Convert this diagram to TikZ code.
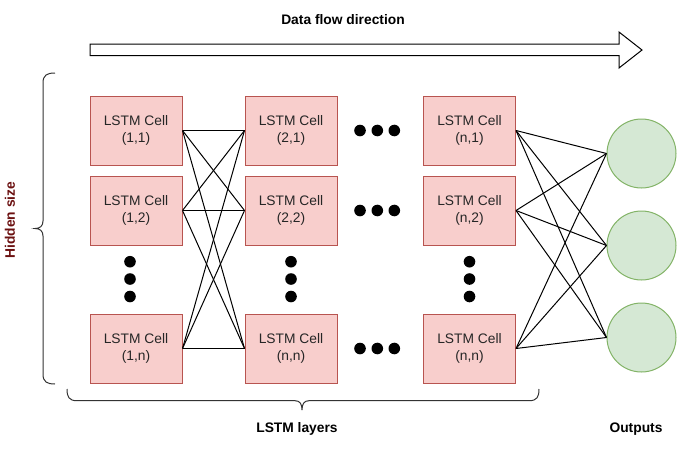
\documentclass[tikz,border=0pt]{standalone}
\usepackage{fontspec}
\setmainfont{Liberation Sans}
\usepackage{tikz}

\definecolor{cellfill}{HTML}{F8CECC}
\definecolor{celldraw}{HTML}{B85450}
\definecolor{outfill}{HTML}{D5E8D4}
\definecolor{outdraw}{HTML}{82B366}
\definecolor{sizered}{HTML}{6B1010}

\begin{document}
\begin{tikzpicture}[x=1pt, y=-1pt, line width=1pt,
        cell/.style={draw=celldraw, fill=cellfill, minimum width=92pt, minimum height=69pt,
            inner sep=0pt, align=center, text=black!85, font=\fontsize{13.8}{17}\selectfont},
        outnode/.style={circle, draw=outdraw, fill=outfill, minimum size=69pt, inner sep=0pt},
        title/.style={font=\bfseries\fontsize{13.8}{17}\selectfont}]
        \def\dotr{5.8}
        \def\braced{black!80}
        \useasboundingbox (0,0) rectangle (691,448);

        % cells, column by column
        \node[cell] (c11) at (136,130.5) {LSTM Cell\\(1,1)};
        \node[cell] (c12) at (136,210.5) {LSTM Cell\\(1,2)};
        \node[cell] (c1n) at (136,348.5) {LSTM Cell\\(1,n)};
        \node[cell] (c21) at (291,130.5) {LSTM Cell\\(2,1)};
        \node[cell] (c22) at (291,210.5) {LSTM Cell\\(2,2)};
        \node[cell] (c2n) at (291,348.5) {LSTM Cell\\(n,n)};
        \node[cell] (cn1) at (469.5,130.5) {LSTM Cell\\(n,1)};
        \node[cell] (cn2) at (469.5,210.5) {LSTM Cell\\(n,2)};
        \node[cell] (cnn) at (469.5,348.5) {LSTM Cell\\(n,n)};

        % outputs
        \node[outnode] (o1) at (641.5,153.5) {};
        \node[outnode] (o2) at (641.5,245.5) {};
        \node[outnode] (o3) at (641.5,337.5) {};

        \foreach \a in {1,2,n} {
            \foreach \b in {1,2,n} {
                \draw (c1\a.east) -- (c2\b.west);
            }
            \foreach \b in {1,2,3} {
                \draw (cn\a.east) -- (o\b.west);
            }
        }

        % dots
        \foreach \y in {130.5,210.5,348.5} {
            \foreach \x in {360,377.3,394.3} {
                \fill (\x,\y) circle (\dotr);
            }
        }
        \foreach \x in {130,291,469.5} {
            \foreach \y in {261.7,279,296.5} {
                \fill (\x,\y) circle (\dotr);
            }
        }

        % data flow arrow
        \draw[fill=white] (90,44) -- (619,44) -- (619,32) -- (642,50) -- (619,68)
            -- (619,55.7) -- (90,55.7) -- cycle;
        \node[title] (flow) at (343,20) {Data flow direction};

        % braces
        \draw[\braced] (55,73) .. controls (47,73) and (43,75) .. (43,83) -- (43,221)
            .. controls (43,226) and (40,228.5) .. (35,228.5)
            .. controls (40,228.5) and (43,231) .. (43,236) -- (43,374)
            .. controls (43,382) and (47,384) .. (55,384);
        \draw[\braced] (67,389) .. controls (67,397) and (69,400.7) .. (77,400.7) -- (295,400.7)
            .. controls (300,400.7) and (302,404) .. (302,410)
            .. controls (302,404) and (304,400.7) .. (309,400.7) -- (529,400.7)
            .. controls (537,400.7) and (539,397) .. (539,389);
        \node[title, rotate=90, text=sizered] (hidden) at (10,220) {Hidden size};
        \node[title] (layers) at (297,429) {LSTM layers};
        \node[title] (outputs) at (636,429) {Outputs};
    \end{tikzpicture}
\end{document}
